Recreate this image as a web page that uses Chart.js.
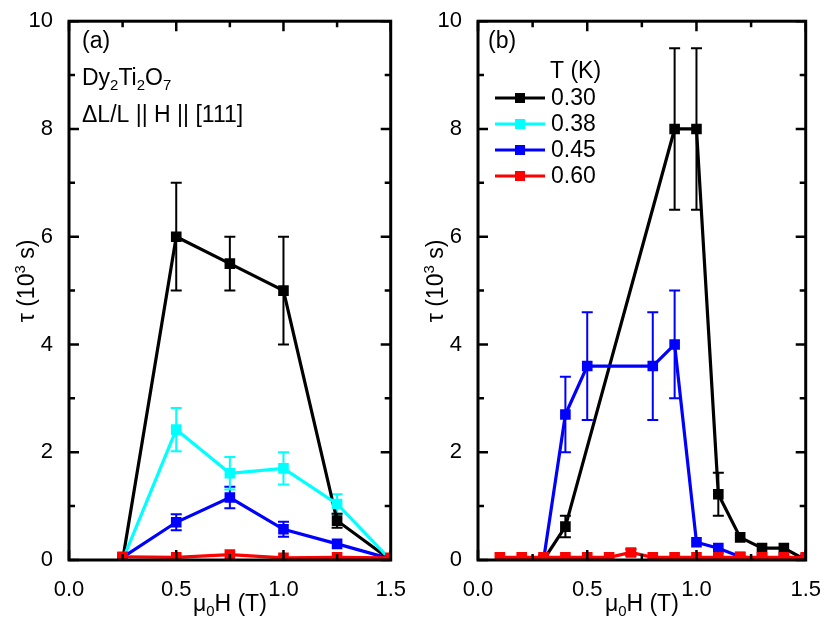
<!DOCTYPE html>
<html>
<head>
<meta charset="utf-8">
<script src="https://cdn.jsdelivr.net/npm/chart.js@4"></script>
<style>
  body { margin: 0; background: #fff; }
  .wrap { position: absolute; top: 0; width: 415px; height: 625px; }
  #boxA { left: 0; }
  #boxB { left: 415px; }
</style>
</head>
<body>
<div class="wrap" id="boxA"><canvas id="chartA" width="415" height="625"></canvas></div>
<div class="wrap" id="boxB"><canvas id="chartB" width="415" height="625"></canvas></div>
<script>
// dados
const fieldA = [0.25, 0.5, 0.75, 1.0, 1.25, 1.5];
const tauA030 = [0, 6, 5.5, 5, 0.73, 0];
const errA030 = [0, 1, 0.5, 1, 0.13, 0];
const tauA038 = [0, 2.42, 1.61, 1.7, 1.04, 0];
const errA038 = [0, 0.4, 0.3, 0.3, 0.18, 0];
const tauA045 = [0.05, 0.7, 1.16, 0.57, 0.3, 0.02];
const errA045 = [0, 0.15, 0.2, 0.14, 0, 0];
const tauA060 = [0.06, 0.05, 0.1, 0.04, 0.05, 0.04];

const fieldB030 = [0.3, 0.4, 0.9, 1.0, 1.1, 1.2, 1.3, 1.4, 1.5];
const tauB030 = [0, 0.62, 8, 8, 1.22, 0.42, 0.22, 0.22, 0];
const errB030 = [0, 0.2, 1.5, 1.5, 0.4, 0, 0, 0, 0];
const fieldB045 = [0.3, 0.4, 0.5, 0.8, 0.9, 1.0, 1.1, 1.2, 1.3, 1.4, 1.5];
const tauB045 = [0, 2.7, 3.6, 3.6, 4.0, 0.33, 0.22, 0.06, 0.02, 0.02, 0.02];
const errB045 = [0, 0.7, 1.0, 1.0, 1.0, 0, 0, 0, 0, 0, 0];
const fieldB060 = [0.1, 0.2, 0.3, 0.4, 0.5, 0.6, 0.7, 0.8, 0.9, 1.0, 1.1, 1.2, 1.3, 1.4, 1.5];
const tauB060 = [0.05, 0.05, 0.05, 0.05, 0.05, 0.05, 0.14, 0.05, 0.05, 0.05, 0.05, 0.05, 0.05, 0.05, 0.05];
const errB060 = [0, 0, 0, 0, 0, 0, 0.06, 0, 0, 0, 0, 0, 0, 0, 0];

const temps = ['0.30', '0.38', '0.45', '0.60'];
const colors = ['#000000', '#00ffff', '#0000ff', '#ff0000'];
const xTicks = [0, 0.5, 1.0, 1.5];
const yTicks = [0, 2, 4, 6, 8, 10];

const FONT = '"Liberation Sans", Arial, sans-serif';
const TXT = 23;

function pts(xs, ys) {
    return xs.map((x, i) => ({ x: x, y: ys[i] }));
}

function makeSet(idx, xs, ys, errs, errColor) {
    return {
        label: temps[idx],
        data: pts(xs, ys),
        errors: errs || [],
        errColor: errColor || colors[idx],
        borderColor: colors[idx],
        backgroundColor: colors[idx],
        borderWidth: 3.2,
        pointStyle: 'rect',
        pointRadius: 7.5,
        pointHoverRadius: 7.5,
        pointBorderWidth: 0,
        tension: 0,
        order: 4 - idx
    };
}

// texto com sub/sobrescrito: partes [texto, deslocamento]
function drawRich(ctx, parts, x, y, size, align) {
    let w = 0;
    parts.forEach(p => {
        ctx.font = (p[1] ? size * 0.65 : size) + 'px ' + FONT;
        w += ctx.measureText(p[0]).width;
    });
    let cx = align === 'center' ? x - w / 2 : x;
    ctx.textAlign = 'left';
    ctx.textBaseline = 'alphabetic';
    parts.forEach(p => {
        ctx.font = (p[1] ? size * 0.65 : size) + 'px ' + FONT;
        ctx.fillText(p[0], cx, y + (p[1] || 0));
        cx += ctx.measureText(p[0]).width;
    });
}

const framePlugin = {
    id: 'frame',
    beforeDatasetsDraw(chart) {
        const ctx = chart.ctx;
        const xs = chart.scales.x, ys = chart.scales.y;
        ctx.save();
        ctx.lineWidth = 2;
        chart.data.datasets.slice().reverse().forEach(ds => {
            ctx.strokeStyle = ds.errColor;
            ds.data.forEach((p, i) => {
                const e = ds.errors[i];
                if (!e) return;
                const px = xs.getPixelForValue(p.x);
                const y1 = ys.getPixelForValue(p.y + e);
                const y2 = ys.getPixelForValue(p.y - e);
                ctx.beginPath();
                ctx.moveTo(px, y1); ctx.lineTo(px, y2);
                ctx.moveTo(px - 5.5, y1); ctx.lineTo(px + 5.5, y1);
                ctx.moveTo(px - 5.5, y2); ctx.lineTo(px + 5.5, y2);
                ctx.stroke();
            });
        });
        ctx.restore();
    },
    afterDatasetsDraw(chart, args, opts) {
        const ctx = chart.ctx;
        const a = chart.chartArea;
        const xs = chart.scales.x, ys = chart.scales.y;
        ctx.save();
        ctx.strokeStyle = '#000';
        ctx.lineWidth = 3;
        ctx.strokeRect(a.left, a.top, a.right - a.left, a.bottom - a.top);

        // ticks para dentro nos quatro lados
        ctx.lineWidth = 2.5;
        ctx.beginPath();
        for (let v = 0; v <= 1.5001; v += 0.25) {
            const px = xs.getPixelForValue(v);
            const len = Math.abs(v / 0.5 - Math.round(v / 0.5)) < 1e-6 ? 10 : 6;
            ctx.moveTo(px, a.bottom); ctx.lineTo(px, a.bottom - len);
            ctx.moveTo(px, a.top); ctx.lineTo(px, a.top + len);
        }
        for (let v = 0; v <= 10; v += 1) {
            const py = ys.getPixelForValue(v);
            const len = v % 2 === 0 ? 10 : 6;
            ctx.moveTo(a.left, py); ctx.lineTo(a.left + len, py);
            ctx.moveTo(a.right, py); ctx.lineTo(a.right - len, py);
        }
        ctx.stroke();

        ctx.fillStyle = '#000';
        // titulos dos eixos
        drawRich(ctx, [['\u03bc'], ['0', 5], ['H (T)']], (a.left + a.right) / 2, 611, TXT, 'center');
        ctx.save();
        ctx.translate(opts.yTitleX, 281);
        ctx.rotate(-Math.PI / 2);
        drawRich(ctx, [['\u03c4 (10'], ['3', -9], [' s)']], 0, 8, TXT, 'center');
        ctx.restore();

        // anotacoes
        (opts.notes || []).forEach(n => drawRich(ctx, n.parts, a.left + n.dx, n.y, TXT, 'left'));

        // legenda
        if (opts.legend) {
            const L = opts.legend;
            ctx.font = TXT + 'px ' + FONT;
            ctx.textBaseline = 'middle';
            ctx.fillText('T (K)', L.x + 55, L.y);
            temps.forEach((t, i) => {
                const yy = L.y + L.gap * (i + 1);
                ctx.strokeStyle = colors[i];
                ctx.fillStyle = colors[i];
                ctx.lineWidth = 3;
                ctx.beginPath();
                ctx.moveTo(L.x, yy); ctx.lineTo(L.x + 50, yy);
                ctx.stroke();
                ctx.fillRect(L.x + 20, yy - 5, 10, 10);
                ctx.fillStyle = '#000';
                ctx.font = TXT + 'px ' + FONT;
                ctx.textBaseline = 'middle';
                ctx.fillText(t, L.x + 56, yy + 1);
            });
        }
        ctx.restore();
    }
};

function makeOptions(yWidth, padRight, extra) {
    return {
        responsive: false,
        animation: false,
        layout: { padding: { top: 15, right: padRight, left: 0, bottom: 0 } },
        plugins: {
            legend: { display: false },
            tooltip: { enabled: false },
            frame: extra
        },
        scales: {
            x: {
                type: 'linear',
                min: 0, max: 1.5,
                afterBuildTicks: s => { s.ticks = xTicks.map(v => ({ value: v })); },
                afterFit: s => { s.height = 65; },
                grid: { display: false },
                border: { display: false },
                ticks: {
                    color: '#000',
                    padding: 9,
                    maxRotation: 0,
                    font: { family: FONT, size: 22 },
                    callback: v => Number(v).toFixed(1)
                }
            },
            y: {
                min: 0, max: 10,
                afterBuildTicks: s => { s.ticks = yTicks.map(v => ({ value: v })); },
                afterFit: s => { s.width = yWidth; },
                grid: { display: false },
                border: { display: false },
                ticks: {
                    color: '#000',
                    padding: 8,
                    font: { family: FONT, size: 22 }
                }
            }
        }
    };
}

new Chart(document.getElementById('chartA'), {
    type: 'line',
    data: {
        datasets: [
            makeSet(0, fieldA, tauA030, errA030),
            makeSet(1, fieldA, tauA038, errA038),
            makeSet(2, fieldA, tauA045, errA045),
            makeSet(3, fieldA, tauA060)
        ]
    },
    options: makeOptions(69, 13, {
        yTitleX: 26,
        notes: [
            { parts: [['(a)']], dx: 13, y: 48 },
            { parts: [['Dy'], ['2', 5], ['Ti'], ['2', 5], ['O'], ['7', 5]], dx: 13, y: 85 },
            { parts: [['\u0394L/L || H || [111]']], dx: 13, y: 122 }
        ]
    }),
    plugins: [framePlugin]
});

new Chart(document.getElementById('chartB'), {
    type: 'line',
    data: {
        datasets: [
            makeSet(0, fieldB030, tauB030, errB030),
            makeSet(1, [], []),
            makeSet(2, fieldB045, tauB045, errB045),
            makeSet(3, fieldB060, tauB060, errB060, '#000000')
        ]
    },
    options: makeOptions(63, 20, {
        yTitleX: 20,
        notes: [{ parts: [['(b)']], dx: 10, y: 48 }],
        legend: { x: 80, y: 72, gap: 26 }
    }),
    plugins: [framePlugin]
});
</script>
</body>
</html>
